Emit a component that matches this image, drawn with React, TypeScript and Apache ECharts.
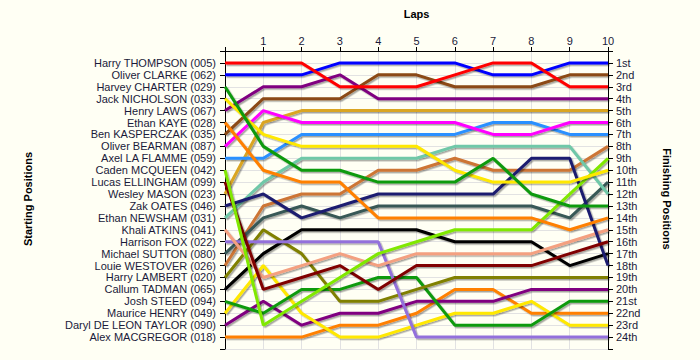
import React, { useEffect, useRef } from "react";
import * as echarts from "echarts";

const laps = [0, 1, 2, 3, 4, 5, 6, 7, 8, 9, 10];
const lapLabels = ["", "1", "2", "3", "4", "5", "6", "7", "8", "9", "10"];

const drivers = [
  "Harry THOMPSON (005)",
  "Oliver CLARKE (062)",
  "Harvey CHARTER (029)",
  "Jack NICHOLSON (033)",
  "Henry LAWS (067)",
  "Ethan KAYE (028)",
  "Ben KASPERCZAK (035)",
  "Oliver BEARMAN (087)",
  "Axel LA FLAMME (059)",
  "Caden MCQUEEN (042)",
  "Lucas ELLINGHAM (099)",
  "Wesley MASON (023)",
  "Zak OATES (046)",
  "Ethan NEWSHAM (031)",
  "Khali ATKINS (041)",
  "Harrison FOX (022)",
  "Michael SUTTON (080)",
  "Louie WESTOVER (026)",
  "Harry LAMBERT (020)",
  "Callum TADMAN (065)",
  "Josh STEED (094)",
  "Maurice HENRY (049)",
  "Daryl DE LEON TAYLOR (090)",
  "Alex MACGREGOR (018)",
];

const finishLabels = [
  "1st", "2nd", "3rd", "4th", "5th", "6th", "7th", "8th", "9th", "10th",
  "11th", "12th", "13th", "14th", "15th", "16th", "17th", "18th", "19th", "20th",
  "21st", "22nd", "23rd", "24th",
];

// positions per lap (lap 0 = start)
const thompson = [1, 1, 1, 3, 3, 3, 2, 1, 1, 3, 3];
const clarke = [2, 2, 2, 1, 1, 1, 1, 2, 2, 1, 1];
const charter = [3, 8, 10, 10, 11, 11, 11, 9, 12, 13, 13];
const nicholson = [4, 7, 8, 8, 8, 8, 10, 11, 11, 11, 10];
const laws = [5, 3, 3, 2, 4, 4, 4, 4, 4, 4, 4];
const kaye = [6, 10, 11, 11, 14, 14, 14, 14, 14, 15, 14];
const kasperczak = [7, 4, 4, 4, 2, 2, 3, 3, 3, 2, 2];
const bearman = [8, 5, 6, 6, 6, 6, 6, 7, 7, 6, 6];
const laFlamme = [9, 9, 7, 7, 7, 7, 7, 6, 6, 7, 7];
const mcqueen = [10, 23, 21, 19, 17, 16, 15, 15, 15, 12, 9];
const ellingham = [11, 20, 19, 18, 20, 18, 18, 18, 18, 17, 16];
const mason = [12, 6, 5, 5, 5, 5, 5, 5, 5, 5, 5];
const oates = [13, 12, 14, 13, 12, 12, 12, 12, 9, 9, 18];
const newsham = [14, 11, 9, 9, 9, 9, 8, 8, 8, 8, 12];
const atkins = [15, 19, 18, 17, 18, 17, 17, 17, 17, 16, 15];
const fox = [16, 16, 16, 16, 16, 24, 24, 24, 24, 24, 24];
const sutton = [17, 14, 13, 14, 13, 13, 13, 13, 13, 14, 11];
const westover = [18, 13, 12, 12, 10, 10, 9, 10, 10, 10, 8];
const lambert = [19, 15, 17, 21, 21, 20, 19, 19, 19, 19, 19];
const tadman = [20, 17, 15, 15, 15, 15, 16, 16, 16, 18, 17];
const steed = [21, 22, 20, 20, 19, 19, 23, 23, 23, 21, 21];
const henry = [22, 18, 22, 24, 24, 23, 22, 22, 21, 23, 23];
const deLeonTaylor = [23, 21, 23, 22, 22, 21, 21, 21, 20, 20, 20];
const macgregor = [24, 24, 24, 23, 23, 22, 20, 20, 22, 22, 22];

const positions = [
  thompson, clarke, charter, nicholson, laws, kaye, kasperczak, bearman,
  laFlamme, mcqueen, ellingham, mason, oates, newsham, atkins, fox,
  sutton, westover, lambert, tadman, steed, henry, deLeonTaylor, macgregor,
];

const colors = [
  "#FF0000", "#0000FF", "#109A10", "#FFE800", "#800080", "#FF8000",
  "#8B4A13", "#FF00FF", "#2A90FF", "#80E800", "#800000", "#DAA520",
  "#1E1E70", "#70C8A8", "#F4A080", "#9370DB", "#385856", "#CD7535",
  "#808000", "#000000", "#109A10", "#FFE800", "#800080", "#FF8000",
];

const FONT = "Liberation Sans, Arial, sans-serif";
const TEXT = "#1a1a3a";

export default function App() {
  const ref = useRef<HTMLDivElement>(null);

  useEffect(() => {
    if (!ref.current) return;
    const chart = echarts.init(ref.current, undefined, { renderer: "svg" });

    const series = drivers.map((name, i) => ({
      name,
      type: "line",
      xAxisIndex: 0,
      yAxisIndex: 0,
      symbol: "none",
      silent: true,
      data: laps.map((l, k) => [l, positions[i][k]]),
      lineStyle: {
        width: 3,
        color: colors[i],
        shadowColor: "rgba(0,0,0,0.35)",
        shadowOffsetX: 1.5,
        shadowOffsetY: 1.5,
        shadowBlur: 1,
      },
      z: 2 + (drivers.length - i) * 0.01,
    }));

    chart.setOption({
      animation: false,
      backgroundColor: "#FFFFF4",
      textStyle: { fontFamily: FONT },
      grid: { left: 225, right: 92, top: 51, bottom: 11, containLabel: false },
      xAxis: {
        type: "value",
        position: "top",
        min: 0,
        max: 10,
        interval: 1,
        name: "Laps",
        nameLocation: "middle",
        nameGap: 32,
        nameTextStyle: { fontWeight: "bold", fontSize: 11, color: "#000", fontFamily: FONT },
        axisLine: { show: true, onZero: false, lineStyle: { color: "#000", width: 1 } },
        axisTick: { show: true, length: 4, lineStyle: { color: "#000" } },
        axisLabel: {
          margin: 5,
          fontSize: 11,
          color: TEXT,
          fontFamily: FONT,
          formatter: (v: number) => lapLabels[Math.round(v)] ?? "",
        },
        splitLine: { show: true, lineStyle: { color: "#E2E2E2", width: 1 } },
      },
      yAxis: [
        {
          type: "value",
          position: "left",
          inverse: true,
          min: 0,
          max: 25,
          interval: 1,
          axisLine: { show: true, onZero: false, lineStyle: { color: "#000", width: 1 } },
          axisTick: { show: true, length: 5, lineStyle: { color: "#000" } },
          axisLabel: {
            margin: 9,
            fontSize: 11,
            color: TEXT,
            fontFamily: FONT,
            formatter: (v: number) => drivers[Math.round(v) - 1] ?? "",
          },
          splitLine: { show: true, lineStyle: { color: "#E2E2E2", width: 1 } },
        },
        {
          type: "value",
          position: "right",
          inverse: true,
          min: 0,
          max: 25,
          interval: 1,
          axisLine: { show: true, onZero: false, lineStyle: { color: "#000", width: 1 } },
          axisTick: { show: true, length: 5, lineStyle: { color: "#000" } },
          axisLabel: {
            margin: 8,
            fontSize: 11,
            color: TEXT,
            fontFamily: FONT,
            formatter: (v: number) => finishLabels[Math.round(v) - 1] ?? "",
          },
          splitLine: { show: false },
        },
      ],
      graphic: [
        {
          type: "text",
          x: 28,
          y: 199,
          rotation: Math.PI / 2,
          style: {
            text: "Starting Positions",
            fontFamily: FONT,
            fontSize: 11,
            fontWeight: "bold",
            fill: "#000",
            align: "center",
            verticalAlign: "middle",
          },
        },
        {
          type: "text",
          x: 667,
          y: 199,
          rotation: -Math.PI / 2,
          style: {
            text: "Finishing Positions",
            fontFamily: FONT,
            fontSize: 11,
            fontWeight: "bold",
            fill: "#000",
            align: "center",
            verticalAlign: "middle",
          },
        },
      ],
      series,
    });

    return () => chart.dispose();
  }, []);

  return (
    <div
      ref={ref}
      style={{ position: "absolute", left: 0, top: 0, width: 700, height: 360 }}
    />
  );
}
